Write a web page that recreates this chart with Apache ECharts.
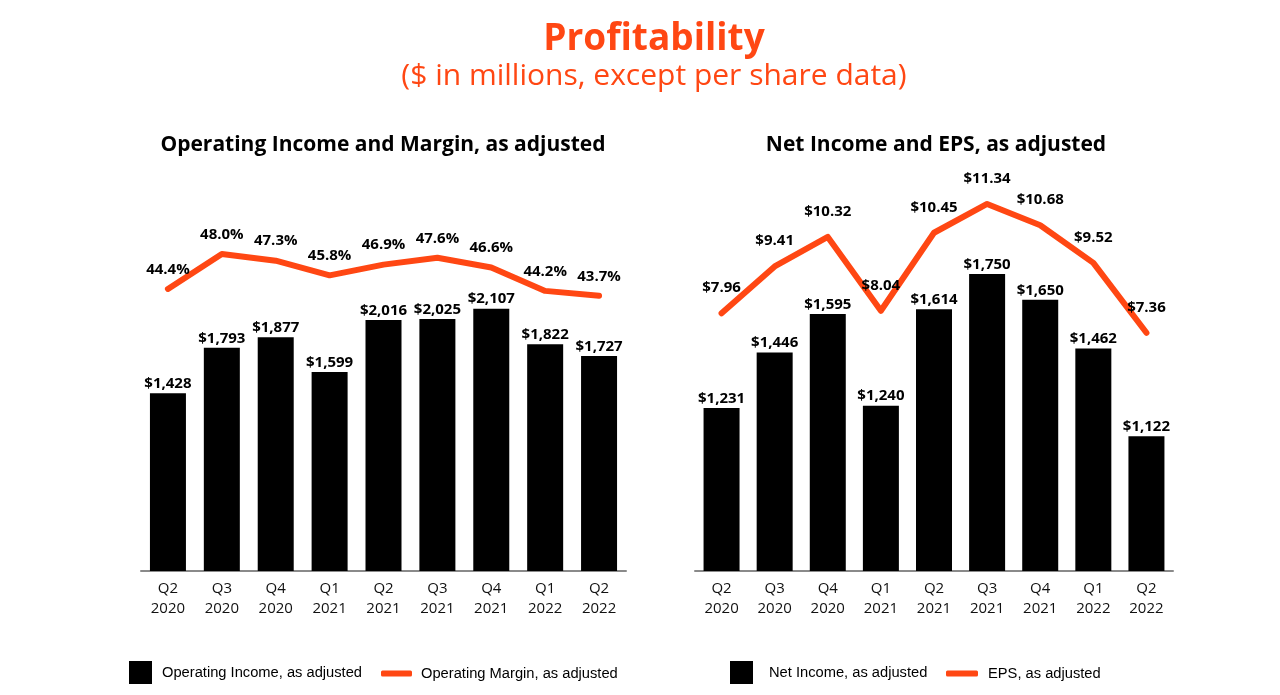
<!DOCTYPE html>
<html>
<head>
<meta charset="utf-8">
<script src="https://cdn.jsdelivr.net/npm/echarts@6/dist/echarts.min.js"></script>
<style>
html,body{margin:0;padding:0;background:#fff;}
#c{width:1280px;height:695px;}
</style>
</head>
<body>
<div id="c"></div>
<script>
const categories = ['Q2\n2020','Q3\n2020','Q4\n2020','Q1\n2021','Q2\n2021','Q3\n2021','Q4\n2021','Q1\n2022','Q2\n2022'];
const operatingIncome = [1428,1793,1877,1599,2016,2025,2107,1822,1727];
const operatingMargin = [44.4,48.0,47.3,45.8,46.9,47.6,46.6,44.2,43.7];
const netIncome = [1231,1446,1595,1240,1614,1750,1650,1462,1122];
const eps = [7.96,9.41,10.32,8.04,10.45,11.34,10.68,9.52,7.36];

const ORANGE = '#FF4713';
const LABEL_FONT = 'Open Sans';
const chart = echarts.init(document.getElementById('c'));

const money = v => '$' + v.toLocaleString('en-US');
const catAxis = (gi) => ({
  type:'category', gridIndex:gi, data:categories,
  axisLine:{show:true,lineStyle:{color:'#8a8a8a',width:2}},
  axisTick:{show:false},
  axisLabel:{color:'#111',fontSize:15,fontFamily:'Open Sans',lineHeight:20,margin:8}
});
const hiddenY = (gi,min,max) => ({type:'value',gridIndex:gi,min:min,max:max,show:false,splitLine:{show:false}});
const barLabel = {show:true,position:'top',distance:2,color:'#000',fontWeight:'bold',fontSize:15,fontFamily:LABEL_FONT,formatter:p=>money(p.value)};
const lineLabel = (fmt,dist) => ({show:true,position:'top',distance:dist,color:'#000',fontWeight:'bold',fontSize:15,fontFamily:LABEL_FONT,formatter:fmt});
const legText = {fontSize:14.7,fontFamily:'Liberation Sans',color:'#000'};

chart.setOption({
  animation:false,
  title:[
    {text:'Profitability',left:654,textAlign:'center',top:21,padding:0,textStyle:{color:ORANGE,fontSize:37,fontWeight:'bold',fontFamily:'Open Sans'}},
    {text:'($ in millions, except per share data)',left:654,textAlign:'center',top:61,padding:0,textStyle:{color:ORANGE,fontSize:30,fontWeight:'normal',fontFamily:'Open Sans'}},
    {text:'Operating Income and Margin, as adjusted',left:383,textAlign:'center',top:135,padding:0,textStyle:{color:'#000',fontSize:21,fontWeight:'bold',fontFamily:'Open Sans'}},
    {text:'Net Income and EPS, as adjusted',left:936,textAlign:'center',top:135,padding:0,textStyle:{color:'#000',fontSize:21,fontWeight:'bold',fontFamily:'Open Sans'}}
  ],
  legend:[
    {left:129,top:661,padding:0,itemWidth:23,itemHeight:23,data:[{name:'Operating Income, as adjusted',icon:'rect'}],textStyle:Object.assign({padding:[2,0,0,5]},legText)},
    {left:381,top:666,padding:0,itemWidth:31,itemHeight:6,data:[{name:'Operating Margin, as adjusted',icon:'roundRect'}],textStyle:Object.assign({padding:[0,0,0,4]},legText)},
    {left:730,top:661,padding:0,itemWidth:23,itemHeight:23,data:[{name:'Net Income, as adjusted',icon:'rect'}],textStyle:Object.assign({padding:[2,0,0,11]},legText)},
    {left:946,top:666,padding:0,itemWidth:32,itemHeight:6,data:[{name:'EPS, as adjusted',icon:'roundRect'}],textStyle:Object.assign({padding:[0,0,0,5]},legText)}
  ],
  grid:[
    {left:141,top:180,width:485,height:391},
    {left:695,top:180,width:478,height:391}
  ],
  xAxis:[catAxis(0),catAxis(1)],
  yAxis:[hiddenY(0,0,3141),hiddenY(0,15.4,55.6),hiddenY(1,600,2114),hiddenY(1,0,12.08)],
  series:[
    {name:'Operating Income, as adjusted',type:'bar',xAxisIndex:0,yAxisIndex:0,data:operatingIncome,barWidth:36,itemStyle:{color:'#000'},label:barLabel},
    {name:'Operating Margin, as adjusted',type:'line',xAxisIndex:0,yAxisIndex:1,data:operatingMargin,symbol:'circle',symbolSize:0,showSymbol:true,lineStyle:{color:ORANGE,width:6,cap:'round',join:'round'},itemStyle:{color:ORANGE},label:lineLabel(p=>p.value.toFixed(1)+'%',12)},
    {name:'Net Income, as adjusted',type:'bar',xAxisIndex:1,yAxisIndex:2,data:netIncome,barWidth:36,itemStyle:{color:'#000'},label:barLabel},
    {name:'EPS, as adjusted',type:'line',xAxisIndex:1,yAxisIndex:3,data:eps,symbol:'circle',symbolSize:0,showSymbol:true,lineStyle:{color:ORANGE,width:6,cap:'round',join:'round'},itemStyle:{color:ORANGE},label:lineLabel(p=>'$'+p.value.toFixed(2),18)}
  ]
});
</script>
</body>
</html>
